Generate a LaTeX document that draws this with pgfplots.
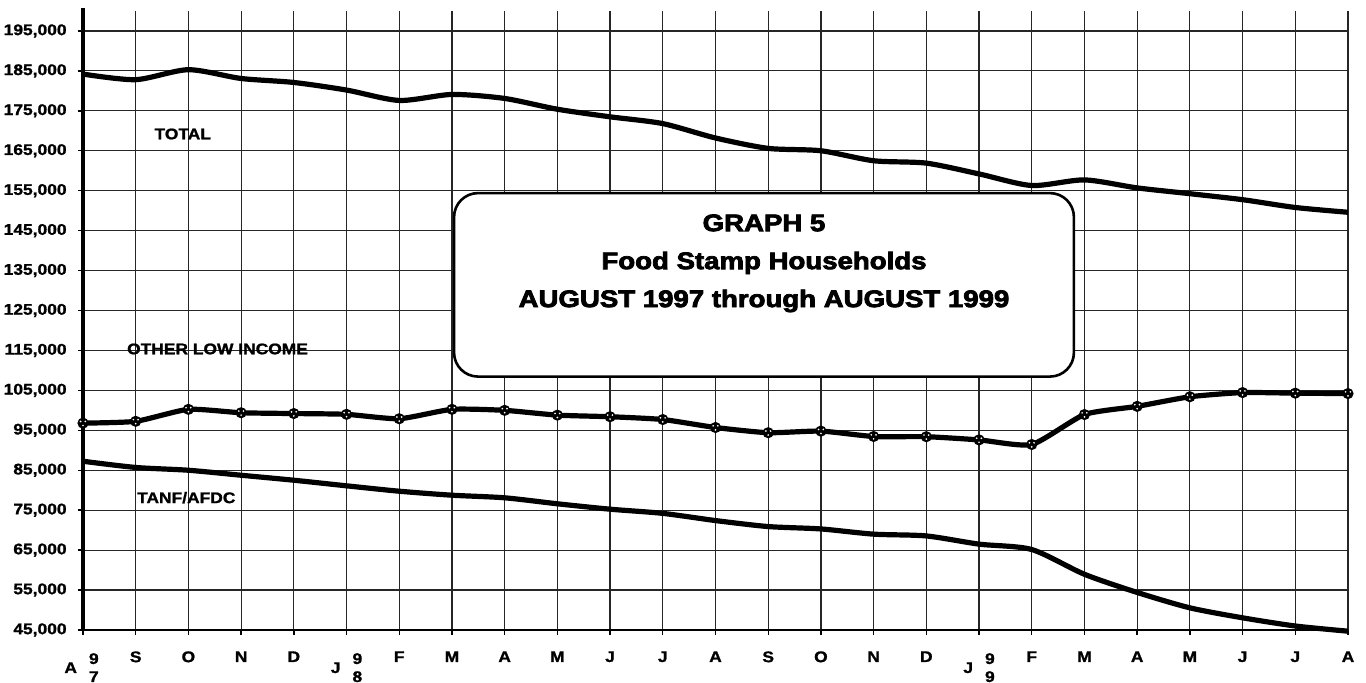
\documentclass[border=0pt]{standalone}
\usepackage{pgfplots}
\pgfplotsset{compat=1.18}
\usepackage{fontspec}
\setmainfont{Liberation Sans}[BoldFeatures={FakeBold=1.2}]
\newfontface\heavy{Liberation Sans Bold}[FakeBold=3]
\usepackage{graphicx}
\newcommand{\sx}[1]{\scalebox{1.13}[1]{#1}}
\newcommand{\bx}[1]{\scalebox{1.15}[1]{#1}}
\newcommand{\yr}[2]{\llap{\raisebox{-4.5pt}{\sx{#1}}\hspace{3pt}}\rlap{\hspace{3pt}\begin{tabular}[t]{@{}c@{}}\sx{9}\\\sx{#2}\end{tabular}}}
\pgfdeclareplotmark{fsm}{%
  \pgfpathcircle{\pgfpointorigin}{\pgfplotmarksize}%
  \pgfsetfillcolor{black}%
  \pgfusepathqfill
  \pgfsetfillcolor{white}%
  \pgfpathcircle{\pgfpoint{-0.42\pgfplotmarksize}{0.3\pgfplotmarksize}}{0.17\pgfplotmarksize}%
  \pgfpathcircle{\pgfpoint{0.42\pgfplotmarksize}{0.3\pgfplotmarksize}}{0.17\pgfplotmarksize}%
  \pgfpathcircle{\pgfpoint{0pt}{-0.42\pgfplotmarksize}}{0.17\pgfplotmarksize}%
  \pgfusepathqfill
}
\pgfplotstableread{
x total other tanf
0 184200 96800 87250
1 182800 97250 85700
2 185300 100250 85000
3 183100 99400 83750
4 182100 99200 82500
5 180200 99000 81100
6 177600 97900 79750
7 179100 100250 78750
8 178100 100000 78100
9 175400 98800 76600
10 173500 98400 75250
11 171800 97700 74200
12 168200 95700 72400
13 165600 94400 70900
14 165000 94800 70300
15 162500 93450 69000
16 161900 93400 68550
17 159200 92600 66500
18 156300 91450 65150
19 157700 98950 58950
20 155700 101000 54400
21 154250 103400 50550
22 152750 104450 48050
23 150800 104300 46000
24 149600 104200 44700
}\data
\begin{document}
\begin{tikzpicture}
\useasboundingbox (-41.5pt,-26.5pt) rectangle (641.5pt,315pt);
\begin{axis}[
  scale only axis,
  width=632.5pt, height=309.5pt,
  xmin=0, xmax=24, ymin=45000, ymax=200000,
  clip=false,
  axis x line*=bottom, axis y line*=left,
  x axis line style={-, line width=0.8pt, black},
  y axis line style={-, line width=2.2pt, black, shorten >=-1.5pt},
  xtick={0,...,24},
  ytick={45000,55000,...,195000},
  scaled y ticks=false,
  xticklabels={\yr{A}{7},\sx{S},\sx{O},\sx{N},\sx{D},\yr{J}{8},\sx{F},\sx{M},\sx{A},\sx{M},\sx{J},\sx{J},\sx{A},\sx{S},\sx{O},\sx{N},\sx{D},\yr{J}{9},\sx{F},\sx{M},\sx{A},\sx{M},\sx{J},\sx{J},\sx{A}},
  yticklabels={\sx{45,000},\sx{55,000},\sx{65,000},\sx{75,000},\sx{85,000},\sx{95,000},\sx{105,000},\sx{115,000},\sx{125,000},\sx{135,000},\sx{145,000},\sx{155,000},\sx{165,000},\sx{175,000},\sx{185,000},\sx{195,000}},
  tick label style={font=\fontsize{7.7}{9}\selectfont\bfseries, inner sep=0pt},
  xticklabel style={anchor=north},
  yticklabel style={anchor=east},
  xticklabel shift=8pt,
  yticklabel shift=5.5pt,
  tick align=outside,
  major tick length=2.5pt,
  tick style={black, line width=0.7pt},
  grid=major,
  major grid style={black!85, line width=0.6pt},
]
\addplot[black, line width=2.6pt, smooth, tension=0.45] table[x=x, y=total] {\data};
\addplot[black, line width=2.6pt, smooth, tension=0.35, mark=fsm, mark size=2.8pt] table[x=x, y=other] {\data};
\addplot[black, line width=2.6pt, smooth, tension=0.45] table[x=x, y=tanf] {\data};
\node[anchor=west, inner sep=0pt, font=\fontsize{7.7}{11}\selectfont\bfseries] at (axis cs:1.35,169200) {\sx{TOTAL}};
\node[anchor=west, inner sep=0pt, font=\fontsize{7.7}{11}\selectfont\bfseries] at (axis cs:0.83,115370) {\sx{OTHER LOW INCOME}};
\node[anchor=west, inner sep=0pt, font=\fontsize{7.7}{11}\selectfont\bfseries] at (axis cs:1.02,78130) {\sx{TANF/AFDC}};
\draw[black, line width=1.3pt, fill=white, rounded corners=12pt] (axis cs:7.04,108450) rectangle (axis cs:18.8,154400);
\node[inner sep=0pt, font=\fontsize{12}{20}\selectfont\heavy] at (axis cs:12.92,146930) {\bx{GRAPH 5}};
\node[inner sep=0pt, font=\fontsize{12}{20}\selectfont\heavy] at (axis cs:12.92,136910) {\bx{Food Stamp Households}};
\node[inner sep=0pt, font=\fontsize{12}{20}\selectfont\heavy] at (axis cs:12.92,127390) {\bx{AUGUST 1997 through AUGUST 1999}};
\end{axis}
\end{tikzpicture}
\end{document}
